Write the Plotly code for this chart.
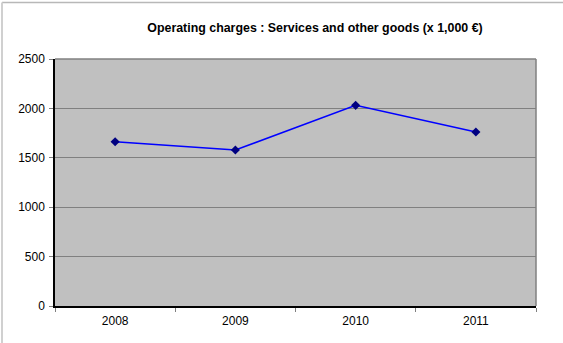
import plotly.graph_objects as go

# Operating charges: services and other goods, in thousands of euros
years = ["2008", "2009", "2010", "2011"]
charges = [1663, 1579, 2031, 1761]
y_ticks = [0, 500, 1000, 1500, 2000, 2500]

W, H = 563, 343
L, R, T, B = 55, 27, 59, 37

fig = go.Figure()
fig.add_trace(go.Scatter(
    x=years, y=charges, mode="lines+markers",
    line=dict(color="#0000ff", width=1.5),
    marker=dict(symbol="diamond", size=7, color="#000080"),
    hoverinfo="x+y",
))

pw = W - L - R
ph = H - T - B
fig.update_layout(
    width=W, height=H,
    margin=dict(l=L, r=R, t=T, b=B, pad=0),
    paper_bgcolor="white", plot_bgcolor="#c0c0c0",
    showlegend=False,
    font=dict(family="Liberation Sans, Arial, sans-serif", size=12, color="black"),
    title=dict(
        text="<b>Operating charges : Services and other goods (x 1,000 €)</b>",
        x=315 / W, xanchor="center", y=1 - 28 / H, yanchor="middle",
        font=dict(size=12.4, family="Liberation Sans, Arial, sans-serif", color="black"),
    ),
    xaxis=dict(
        type="category", tickson="boundaries", ticks="outside", ticklen=4,
        tickcolor="#808080", showgrid=False, showline=True, linecolor="black",
        linewidth=1.5, range=[-0.5, 3.5], ticklabelstandoff=3,
    ),
    yaxis=dict(
        range=[0, 2500], tickvals=y_ticks, ticks="outside", ticklen=4,
        tickcolor="#808080", showgrid=True, gridcolor="#808080", gridwidth=1,
        showline=True, linecolor="black", linewidth=1.5, zeroline=False,
        ticklabelstandoff=2,
    ),
    shapes=[
        # grey border around the plot area (top and right edges)
        dict(type="line", xref="paper", yref="paper", x0=0, x1=1, y0=1, y1=1,
             line=dict(color="#808080", width=1.5), layer="below"),
        dict(type="line", xref="paper", yref="paper", x0=1, x1=1, y0=0, y1=1,
             line=dict(color="#808080", width=1.5), layer="below"),
        # light outer frame of the chart
        dict(type="line", xref="paper", yref="paper",
             x0=(2 - L) / pw, x1=(W + 5 - L) / pw,
             y0=(H - B - 2.5) / ph, y1=(H - B - 2.5) / ph,
             line=dict(color="#b8b8b8", width=1.5)),
        dict(type="line", xref="paper", yref="paper",
             x0=(2 - L) / pw, x1=(2 - L) / pw,
             y0=(-B - 5) / ph, y1=(H - B - 2.5) / ph,
             line=dict(color="#d0d0d0", width=2)),
    ],
)

fig.write_html("out.html")
